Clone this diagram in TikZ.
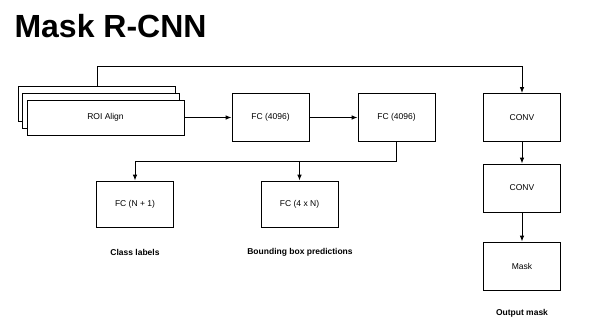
\documentclass[tikz,border=0pt]{standalone}
\usepackage{fontspec}
\setmainfont{Liberation Sans}
\usetikzlibrary{arrows.meta,positioning,calc}
\tikzset{
  >={Latex[length=6pt,width=4.6pt]},
  blk/.style={draw=black,line width=0.9pt,fill=white,font=\fontsize{8.5}{10}\selectfont,align=center,inner sep=0pt},
  sheet/.style={blk,minimum width=157,minimum height=35},
  fcbox/.style={blk,minimum width=77,minimum height=48},
  caption/.style={font=\fontsize{8.5}{10}\selectfont\bfseries,align=center},
  arr/.style={->,draw=black,line width=0.9pt},
  ln/.style={draw=black,line width=0.9pt},
}

\begin{document}
\begin{tikzpicture}[x=1pt,y=-1pt]
\useasboundingbox (0,0) rectangle (600,327);
\node[anchor=west,font=\fontsize{32}{36}\selectfont\bfseries] (title) at (11,26) {Mask R-CNN};
% roi stack
\node[sheet] (roib) at (97,104) {};
\node[sheet] (roim) at (101,110.5) {};
\node[sheet] (roif) at (105.5,117.5) {ROI Align};
% fc head
\node[fcbox] (fc1) at (270.5,117.5) {FC (4096)};
\node[fcbox] (fc2) at (396.5,117.5) {FC (4096)};
\node[fcbox,minimum height=46] (fcc) at (135,204) {FC (N + 1)};
\node[fcbox,minimum height=46] (fcb) at (299.5,204) {FC (4 x N)};
\node[caption] (lblc) at (135,252) {Class labels};
\node[caption] (lblb) at (300,252) {Bounding box predictions};
% mask branch
\node[fcbox] (conv1) at (522,117.5) {CONV};
\node[fcbox] (conv2) at (522,188) {CONV};
\node[fcbox] (mask) at (522,266) {Mask};
\node[caption] (lblm) at (522,313) {Output mask};

\draw[arr] (roif.east) -- (fc1.west);
\draw[arr] (fc1.east) -- (fc2.west);
\draw[ln] (fc2.south) -- ++(0,19) coordinate (split);
\draw[arr] (split) -| (fcc.north);
\draw[arr] (fcb.north |- split) -- (fcb.north);
\draw[arr] (roib.north) -- ++(0,-20) -| (conv1.north);
\draw[arr] (conv1.south) -- (conv2.north);
\draw[arr] (conv2.south) -- (mask.north);
\end{tikzpicture}
\end{document}
